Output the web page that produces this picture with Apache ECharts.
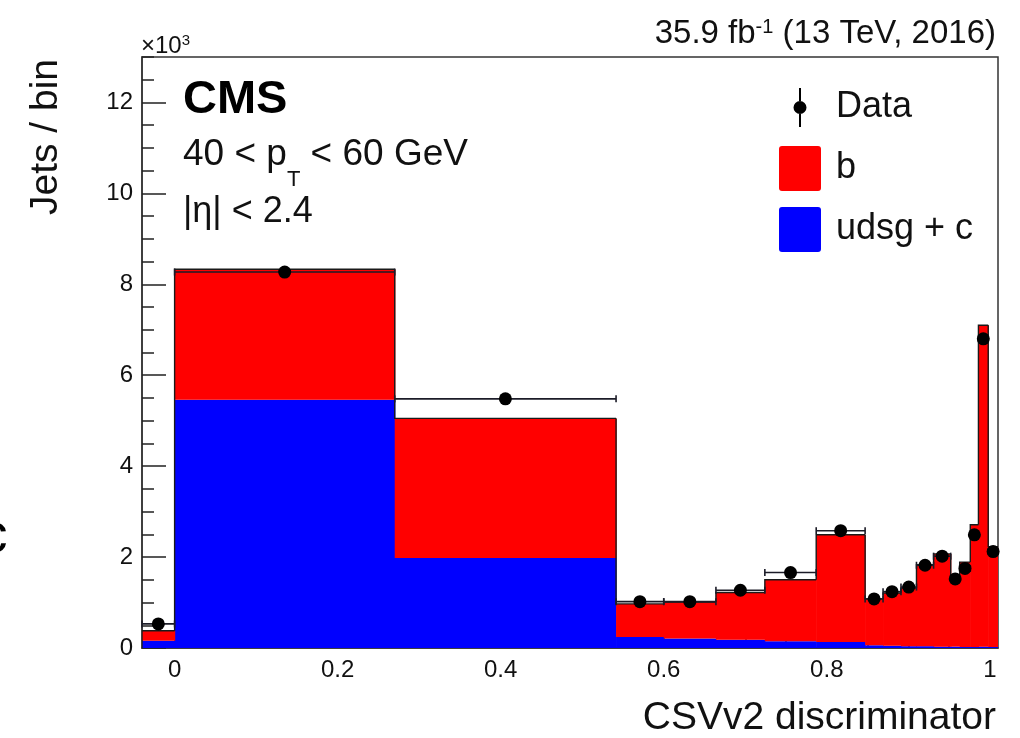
<!DOCTYPE html>
<html>
<head>
<meta charset="utf-8">
<script src="https://cdn.jsdelivr.net/npm/echarts@6/dist/echarts.min.js"></script>
<style>
  html, body { margin: 0; padding: 0; background: #ffffff; }
  #chart { width: 1020px; height: 738px; }
</style>
</head>
<body>
<div id="chart"></div>
<script>
// CSVv2 discriminator bin edges (an underflow bin left of 0, an overflow bin right of 1)
const binEdges = [-0.04, 0, 0.27, 0.5415, 0.60, 0.664, 0.724, 0.787, 0.847, 0.869,
                  0.891, 0.910, 0.931, 0.952, 0.963, 0.976, 0.986, 0.998, 1.01];
// Jets per bin, simulation split by flavour
const udsgC = [160, 5460, 1980, 240, 210, 180, 150, 130, 60, 50,
               40, 40, 30, 30, 20, 20, 30, 20];
const bJets = [220, 2870, 3070, 730, 800, 1040, 1350, 2360, 1020, 1160,
               1280, 1790, 2040, 1580, 1870, 2690, 7070, 2210];
// Jets per bin, data
const dataJets = [530, 8270, 5480, 1020, 1020, 1270, 1660, 2580, 1080, 1240,
                  1340, 1820, 2020, 1520, 1750, 2490, 6800, 2120];
// Axis ticks
const xMajorTicks = [0, 0.2, 0.4, 0.6, 0.8, 1];
const xMinorTicks = [0.05, 0.1, 0.15, 0.25, 0.3, 0.35, 0.45, 0.5, 0.55,
                     0.65, 0.7, 0.75, 0.85, 0.9, 0.95];
const xRange = [-0.04, 1.01];
const yRange = [0, 13000];
const yMajorStep = 2000;
const yMinorStep = 500;

const FONT = "'Liberation Sans', Arial, Helvetica, sans-serif";
const INK = '#111111';
const RED = '#ff0000';
const BLUE = '#0000ff';

// stacked bin boxes: [lo, hi, bottom, top]
const blueBoxes = udsgC.map((v, i) => [binEdges[i], binEdges[i + 1], 0, v]);
const redBoxes = bJets.map((v, i) => [binEdges[i], binEdges[i + 1], udsgC[i], udsgC[i] + v]);
// outline of the stack: [lo, hi, previous bin top, this bin top]
const outline = redBoxes.map((b, i) => [b[0], b[1], i === 0 ? 0 : redBoxes[i - 1][3], b[3]]);
// data points: [lo, hi, value]
const dataPts = dataJets.map((v, i) => [binEdges[i], binEdges[i + 1], v]);

function boxRenderer(color) {
  return function (params, api) {
    const p0 = api.coord([api.value(0), api.value(3)]);
    const p1 = api.coord([api.value(1), api.value(2)]);
    return {
      type: 'rect',
      shape: { x: p0[0], y: p0[1], width: p1[0] - p0[0] + 0.6, height: p1[1] - p0[1] },
      style: { fill: color }
    };
  };
}

function outlineRenderer(params, api) {
  const a = api.coord([api.value(0), api.value(2)]);
  const b = api.coord([api.value(0), api.value(3)]);
  const c = api.coord([api.value(1), api.value(3)]);
  return {
    type: 'polyline',
    shape: { points: [a, b, c] },
    style: { stroke: '#1a1a1a', lineWidth: 1.4, fill: null }
  };
}

function dataRenderer(params, api) {
  const lo = api.coord([api.value(0), api.value(2)]);
  const hi = api.coord([api.value(1), api.value(2)]);
  const cx = (lo[0] + hi[0]) / 2;
  const cap = 3.5;
  const lineStyle = { stroke: '#1c1c28', lineWidth: 1.6 };
  return {
    type: 'group',
    children: [
      { type: 'line', shape: { x1: lo[0], y1: lo[1], x2: hi[0], y2: hi[1] }, style: lineStyle },
      { type: 'line', shape: { x1: lo[0], y1: lo[1] - cap, x2: lo[0], y2: lo[1] + cap }, style: lineStyle },
      { type: 'line', shape: { x1: hi[0], y1: hi[1] - cap, x2: hi[0], y2: hi[1] + cap }, style: lineStyle },
      { type: 'circle', shape: { cx: cx, cy: lo[1], r: 6.5 }, style: { fill: '#000000' } }
    ]
  };
}

// legend marker for data: vertical bar with a dot (invisible corner points fix the box)
const dataIcon = 'path://M0,0 L0,0 M42,45 L42,45 ' +
  'M20,3 L22,3 L22,16 L20,16 Z M20,29 L22,29 L22,42 L20,42 Z ' +
  'M14.5,22.5 A6.5,6.5 0 1 0 27.5,22.5 A6.5,6.5 0 1 0 14.5,22.5 Z';
// legend box for the stacked histograms, slightly rounded corners
const boxIcon = 'path://M3,0 L39,0 Q42,0 42,3 L42,42 Q42,45 39,45 L3,45 Q0,45 0,42 L0,3 Q0,0 3,0 Z';

const chart = echarts.init(document.getElementById('chart'), null, { renderer: 'canvas' });

chart.setOption({
  backgroundColor: '#ffffff',
  animation: false,
  textStyle: { fontFamily: FONT },
  grid: {
    left: 142, right: 22, top: 57, bottom: 90,
    show: true, borderColor: '#333333', borderWidth: 1.5, backgroundColor: 'transparent'
  },
  legend: {
    orient: 'vertical',
    left: 774, top: 80,
    itemWidth: 42, itemHeight: 45, itemGap: 16,
    selectedMode: false,
    textStyle: { fontFamily: FONT, fontSize: 36, color: INK, padding: [0, 0, 0, 10] },
    data: [
      { name: 'Data', icon: dataIcon, itemStyle: { color: '#000000' } },
      { name: 'b', icon: boxIcon },
      { name: 'udsg + c', icon: boxIcon }
    ]
  },
  xAxis: [
    {
      type: 'value', min: xRange[0], max: xRange[1], position: 'bottom',
      axisLine: { show: true, onZero: false, lineStyle: { color: '#333333', width: 1.5 } },
      axisTick: { show: true, inside: true, length: 18, customValues: xMajorTicks,
                  lineStyle: { color: '#222222', width: 1.5 } },
      axisLabel: { customValues: xMajorTicks, fontSize: 24, color: INK, fontFamily: FONT, margin: 10,
                   formatter: v => String(v) },
      splitLine: { show: false }
    },
    {
      type: 'value', min: xRange[0], max: xRange[1], position: 'bottom', offset: 0,
      axisLine: { show: false, onZero: false },
      axisTick: { show: true, inside: true, length: 9, customValues: xMinorTicks,
                  lineStyle: { color: '#222222', width: 1.5 } },
      axisLabel: { show: false },
      splitLine: { show: false }
    }
  ],
  yAxis: [
    {
      type: 'value', min: yRange[0], max: yRange[1], interval: yMajorStep, position: 'left',
      axisLine: { show: true, onZero: false, lineStyle: { color: '#333333', width: 1.5 } },
      axisTick: { show: true, inside: true, length: 24, lineStyle: { color: '#222222', width: 1.5 } },
      axisLabel: { fontSize: 24, color: INK, fontFamily: FONT, margin: 9, showMaxLabel: false,
                   formatter: v => String(v / 1000) },
      splitLine: { show: false }
    },
    {
      type: 'value', min: yRange[0], max: yRange[1], interval: yMinorStep, position: 'left', offset: 0,
      axisLine: { show: false, onZero: false },
      axisTick: { show: true, inside: true, length: 12, lineStyle: { color: '#222222', width: 1.5 } },
      axisLabel: { show: false },
      splitLine: { show: false }
    }
  ],
  series: [
    {
      name: 'udsg + c', type: 'custom', xAxisIndex: 0, yAxisIndex: 0, clip: true,
      itemStyle: { color: BLUE },
      renderItem: boxRenderer(BLUE), data: blueBoxes, z: 2
    },
    {
      name: 'b', type: 'custom', xAxisIndex: 0, yAxisIndex: 0, clip: true,
      itemStyle: { color: RED },
      renderItem: boxRenderer(RED), data: redBoxes, z: 2
    },
    {
      name: 'stack outline', type: 'custom', xAxisIndex: 0, yAxisIndex: 0, clip: true,
      renderItem: outlineRenderer, data: outline, z: 3
    },
    {
      name: 'Data', type: 'custom', xAxisIndex: 0, yAxisIndex: 0, clip: false,
      itemStyle: { color: '#000000' },
      renderItem: dataRenderer, data: dataPts, z: 4
    }
  ],
  graphic: [
    {
      type: 'text', x: 141, y: 33, z: 10,
      style: {
        text: '×10{s|3}', fontFamily: FONT, fill: INK, align: 'left', verticalAlign: 'top',
        rich: { s: { fontSize: 15, lineHeight: 10, verticalAlign: 'top', fontFamily: FONT, fill: INK } },
        fontSize: 24, lineHeight: 26
      }
    },
    {
      type: 'text', x: 996, y: 17, z: 10,
      style: {
        text: '{m|35.9 fb}{s|-1}{m| (13 TeV, 2016)}', align: 'right', verticalAlign: 'top',
        rich: {
          m: { fontSize: 33, lineHeight: 40, verticalAlign: 'top', fontFamily: FONT, fill: INK },
          s: { fontSize: 20, lineHeight: 16, verticalAlign: 'top', fontFamily: FONT, fill: INK }
        }
      }
    },
    {
      type: 'text', x: 183, y: 100, z: 10,
      style: { text: 'CMS', fontFamily: FONT, fontWeight: 'bold', fontSize: 47, fill: '#000000',
               align: 'left', verticalAlign: 'middle' }
    },
    {
      type: 'text', x: 183, y: 136, z: 10,
      style: {
        text: '{m|40 < p}{s|T}{m| < 60 GeV}', align: 'left', verticalAlign: 'top',
        rich: {
          m: { fontSize: 37, lineHeight: 40, verticalAlign: 'top', fontFamily: FONT, fill: INK },
          s: { fontSize: 22, lineHeight: 55, verticalAlign: 'bottom', fontFamily: FONT, fill: INK }
        }
      }
    },
    {
      type: 'text', x: 183, y: 212, z: 10,
      style: { text: '|η| < 2.4', fontFamily: FONT, fontSize: 36, fill: INK,
               align: 'left', verticalAlign: 'middle' }
    },
    {
      type: 'text', x: 46, y: 137, rotation: Math.PI / 2, z: 10,
      style: { text: 'Jets / bin', fontFamily: FONT, fontSize: 39, fill: INK,
               align: 'center', verticalAlign: 'middle' }
    },
    {
      type: 'text', x: 996, y: 718, z: 10,
      style: { text: 'CSVv2 discriminator', fontFamily: FONT, fontSize: 39, fill: INK,
               align: 'right', verticalAlign: 'middle' }
    },
    {
      type: 'text', x: -20, y: 537, z: 10,
      style: { text: 'c', fontFamily: FONT, fontSize: 55, fill: '#000000',
               align: 'left', verticalAlign: 'middle' }
    }
  ]
});
</script>
</body>
</html>
